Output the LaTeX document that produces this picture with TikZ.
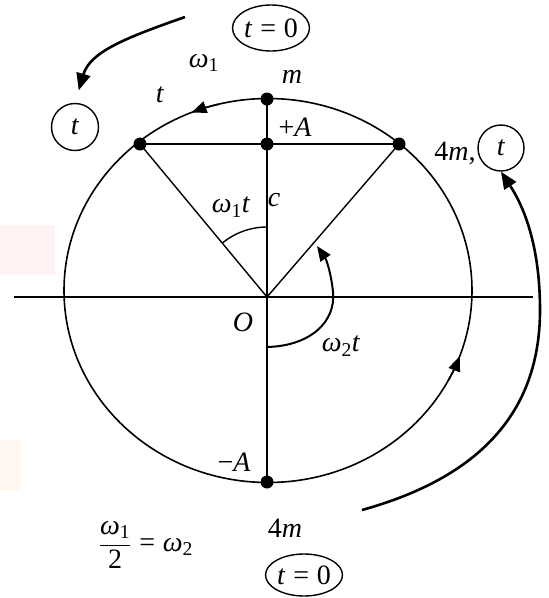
\documentclass[tikz,border=0pt]{standalone}
\usepackage{fontspec}
\setmainfont{Liberation Serif}
\usetikzlibrary{arrows.meta,shapes.geometric,calc}
\newcommand\om[1]{\textit{ω}\textsubscript{#1}}
\newcommand\eqsp{\hspace{0.28em}=\hspace{0.28em}}
\begin{document}
\begin{tikzpicture}[x=1pt,y=-1pt,
  font=\fontsize{28}{32}\selectfont,
  thinline/.style={line width=1.4pt},
  circline/.style={line width=1.6pt},
  boldline/.style={line width=2.1pt},
  bigarrow/.style={line width=2.6pt,-{Triangle[length=17pt,width=14pt]}},
  tiparrow/.style={line width=1.6pt,-{Triangle[length=15pt,width=12pt]}},
  dot/.style={circle,fill,inner sep=0pt,minimum size=13pt},
  lbl/.style={inner sep=0pt},
  ovalbox/.style={ellipse,draw,line width=1.4pt,inner sep=0pt,minimum width=77pt,minimum height=46pt},
  roundbox/.style={circle,draw,line width=1.4pt,inner sep=0pt,minimum size=47pt}]
\useasboundingbox (0,0) rectangle (549,598);
% faint watermark
\fill[red!5] (0,225) rectangle (55,275);
\fill[orange!6] (0,440) rectangle (20,490);
% geometry
\coordinate (C) at (268,290.5);
\coordinate (O) at (267,297);
\coordinate (ax1) at (14,297);
\coordinate (ax2) at (533,297);
\draw[circline] (C) ellipse[x radius=204pt,y radius=192pt];
\draw[thinline] (ax1) -- (ax2);
\node[dot] (top) at (267,99) {};
\node[dot] (mid) at (267,144) {};
\node[dot] (L) at (140,144) {};
\node[dot] (R) at (399,144) {};
\node[dot] (bot) at (267,482) {};
\draw[boldline] (top.center) -- (bot.center);
\draw[boldline] (L.center) -- (R.center);
\draw[thinline] (O) -- (L.center);
\draw[thinline] (O) -- (R.center);
% arrows on circle
\draw[tiparrow] ($(C)+(104:204pt and 192pt)$) arc[start angle=104,end angle=112,x radius=204pt,y radius=192pt];
\draw[tiparrow] ($(C)+(-28:204pt and 192pt)$) arc[start angle=-28,end angle=-20,x radius=204pt,y radius=192pt];
% angle arcs
\draw[thinline] ($(O)+(90:70pt)$) arc[start angle=90,end angle=129.7,radius=70pt];
\coordinate (w2s) at (267,347);
\coordinate (w2e) at (317,246);
\draw[line width=2pt,-{Triangle[length=15pt,width=12pt]}] (w2s) .. controls (310,346) and (336,322) .. (333,292) .. controls (331,272) and (326,259) .. (w2e);
% labels
\node[ovalbox] (t0top) at (271,28) {\textit{t}\eqsp0};
\node[roundbox] (tleft) at (75,127) {\textit{t}};
\node[ovalbox,minimum height=42pt] (t0bot) at (304,575) {\textit{t}\eqsp0};
\node[roundbox,minimum size=46pt] (tright) at (501,148) {\textit{t}};
\coordinate (a1s) at (185,17);
\coordinate (a2s) at (362,510);
\draw[bigarrow,shorten >=13pt] (a1s) .. controls (125,38) and (90,52) .. (tleft.north);
\draw[bigarrow] (a2s) .. controls (470,480) and (540,420) .. (540,310) .. controls (540,250) and (526,210) .. (tright.south);
\node[lbl] (w1) at (204,63) {\om{1}};
\node[lbl] (m) at (292,77) {\textit{m}};
\node[lbl] (tl) at (160,95) {\textit{t}};
\node[lbl] (pA) at (295,127) {+\textit{A}};
\node[lbl] (c) at (274,200) {\textit{c}};
\node[lbl] (w1t) at (231,207) {\om{1}\textit{t}};
\node[lbl] (Olab) at (243,322) {\textit{O}};
\node[lbl] (w2t) at (341,346) {\om{2}\textit{t}};
\node[lbl] (mA) at (234,462) {−\textit{A}};
\node[lbl] (fourm) at (285,528) {4\textit{m}};
\node[lbl] (fourmc) at (455,153) {4\textit{m},};
\node[lbl] (frac) at (146,545) {$\displaystyle\frac{\mbox{\om{1}}}{\mbox{2}}$\eqsp\om{2}};
\end{tikzpicture}
\end{document}
